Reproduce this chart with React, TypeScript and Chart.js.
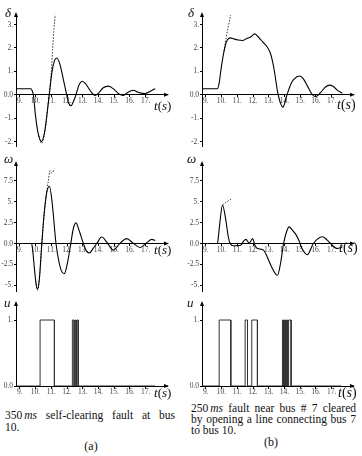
import React, { useEffect, useRef } from 'react';
import { Chart, registerables } from 'chart.js';
Chart.register(...registerables);

// ---------- axis ticks ----------
const xTicks = [9, 10, 11, 12, 13, 14, 15, 16, 17];
const xTickLabels = ['9.', '10.', '11.', '12.', '13.', '14.', '15.', '16.', '17.'];
const deltaTicks = [-2, -1, 0, 1, 2, 3];
const deltaTickLabels = ['-2.', '-1.', '0.0', '1.', '2.', '3.'];
const omegaTicks = [-5, -2.5, 0, 2.5, 5, 7.5];
const omegaTickLabels = ['-5.', '-2.5', '0.0', '2.5', '5.', '7.5'];
const uTicks = [0, 1];
const uTickLabels = ['0.0', '1.'];

// ---------- (a) delta ----------
const deltaA_t = [8.76, 9.72, 9.78, 9.86, 10.0, 10.15, 10.38, 10.6, 10.75, 10.87, 11.05, 11.2, 11.35, 11.55, 11.8, 11.98, 12.1, 12.26, 12.4, 12.57, 12.75, 12.97, 13.2, 13.5, 13.78, 14.0, 14.3, 14.63, 15.0, 15.3, 15.58, 15.85, 16.2, 16.55, 16.95, 17.3, 17.6];
const deltaA = [0.26, 0.26, 0.18, 0.0, -0.9, -1.6, -2.0, -1.5, -0.7, 0.0, 1.0, 1.45, 1.57, 1.3, 0.55, 0.0, -0.35, -0.47, -0.3, 0.0, 0.4, 0.58, 0.45, 0.15, -0.03, 0.07, 0.3, 0.37, 0.22, 0.03, -0.03, 0.1, 0.19, 0.1, 0.05, 0.15, 0.26];
const deltaAd_t = [10.2, 10.38, 10.6, 10.75, 10.87, 11.0, 11.08, 11.17, 11.25];
const deltaAd = [-1.75, -2.08, -1.55, -0.72, 0.0, 0.95, 1.9, 2.8, 3.42];

// ---------- (b) delta ----------
const deltaB_t = [8.76, 9.74, 9.85, 9.95, 10.05, 10.16, 10.28, 10.38, 10.55, 10.8, 11.05, 11.33, 11.6, 11.85, 12.11, 12.3, 12.49, 12.7, 12.87, 13.13, 13.34, 13.55, 13.76, 13.9, 14.14, 14.4, 14.6, 14.98, 15.2, 15.45, 15.77, 15.98, 16.3, 16.6, 16.87, 17.1, 17.35, 17.67];
const deltaB = [0.26, 0.26, 0.5, 1.0, 1.45, 1.86, 2.2, 2.35, 2.43, 2.38, 2.34, 2.32, 2.4, 2.47, 2.6, 2.5, 2.35, 2.2, 2.07, 1.72, 1.08, 0.17, -0.39, -0.53, -0.04, 0.45, 0.67, 0.8, 0.68, 0.38, 0.0, -0.08, 0.1, 0.33, 0.41, 0.35, 0.2, 0.06];
const deltaBd_t = [10.16, 10.3, 10.44, 10.58];
const deltaBd = [1.86, 2.45, 2.95, 3.4];

// ---------- (a) omega ----------
const omegaA_t = [8.76, 9.75, 9.82, 9.92, 10.02, 10.12, 10.24, 10.4, 10.55, 10.7, 10.88, 11.05, 11.3, 11.5, 11.65, 11.83, 12.02, 12.24, 12.4, 12.57, 12.78, 13.04, 13.22, 13.42, 13.65, 13.89, 14.2, 14.55, 14.94, 15.35, 15.79, 16.2, 16.64, 17.0, 17.38, 17.6];
const omegaA = [0, 0, -0.8, -2.8, -4.6, -5.45, -4.3, 0, 3.6, 6.0, 6.86, 5.0, 0, -2.3, -3.3, -3.6, -2.4, 0, 1.8, 2.47, 1.5, 0, -0.85, -1.14, -0.6, 0, 0.78, 0.1, -0.79, 0, 0.59, 0.05, -0.47, 0, 0.5, 0.35];
const omegaAd_t = [10.0, 10.12, 10.24, 10.4, 10.55, 10.7, 10.82, 10.92, 11.03, 11.2];
const omegaAd = [-4.5, -5.6, -4.4, 0, 3.6, 6.0, 7.6, 8.74, 8.43, 8.94];

// ---------- (b) omega ----------
const omegaB_t = [8.76, 9.74, 9.8, 9.9, 10.06, 10.27, 10.42, 10.55, 10.76, 11.0, 11.22, 11.4, 11.55, 11.76, 11.97, 12.12, 12.28, 12.49, 12.7, 12.96, 13.23, 13.55, 13.76, 13.93, 14.14, 14.29, 14.5, 14.72, 14.93, 15.08, 15.45, 15.83, 16.4, 16.93, 17.35, 17.67];
const omegaB = [0, 0, 0.8, 2.6, 4.62, 2.86, 0.9, 0, -0.27, -0.25, -0.2, 0.3, 0.5, 0.05, 0.59, -0.2, -0.6, -0.67, -0.86, -1.84, -3.0, -3.8, -2.24, -0.1, 1.47, 2.0, 1.6, 1.1, 0.3, -0.47, -1.34, 0, 0.82, 0, -0.6, -0.4];
const omegaBd_t = [10.06, 10.3, 10.59];
const omegaBd = [4.62, 4.95, 5.3];

// ---------- control u (switch on / off times) ----------
const uA_on = [10.29, 12.34, 12.53, 12.64];
const uA_off = [11.2, 12.45, 12.59, 12.72];
const uB_on = [9.85, 11.5, 11.92, 13.87, 14.0, 14.13, 14.26];
const uB_off = [10.59, 11.65, 12.28, 13.94, 14.07, 14.2, 14.42];
const uStart = 8.76;
const uEnd = 17.6;

const T_MIN = 8.76;
const T_MAX = 18.35;
const FONT = "'Liberation Serif', 'DejaVu Serif', serif";

const zip = (t: number[], v: number[]) => t.map((x, i) => ({ x, y: v[i] }));
const pulses = (on: number[], off: number[]) => {
  const pts: { x: number; y: number }[] = [{ x: uStart, y: 0 }];
  on.forEach((a, i) => {
    pts.push({ x: a, y: 0 }, { x: a, y: 1 }, { x: off[i], y: 1 }, { x: off[i], y: 0 });
  });
  pts.push({ x: uEnd, y: 0 });
  return pts;
};

const solid = (data: any[]) => ({
  data, borderColor: '#000', borderWidth: 1.1, pointRadius: 0, fill: false,
  cubicInterpolationMode: 'monotone' as const,
});
const dotted = (data: any[]) => ({
  data, borderColor: '#333', borderWidth: 1, pointRadius: 0, fill: false,
  borderDash: [1.5, 1.5], cubicInterpolationMode: 'monotone' as const,
});
const steps = (data: any[]) => ({
  data, borderColor: '#333', borderWidth: 1, pointRadius: 0, fill: false, tension: 0,
});

const arrowPlugin = {
  id: 'axisArrows',
  afterDraw(chart: any) {
    const { ctx, chartArea: a, scales } = chart;
    const y0 = scales.y.getPixelForValue(0);
    ctx.save();
    ctx.fillStyle = '#000';
    ctx.beginPath();
    ctx.moveTo(a.left, a.top - 2);
    ctx.lineTo(a.left - 2, a.top + 3);
    ctx.lineTo(a.left + 2, a.top + 3);
    ctx.closePath();
    ctx.fill();
    ctx.beginPath();
    ctx.moveTo(a.right + 2, y0);
    ctx.lineTo(a.right - 3, y0 - 2);
    ctx.lineTo(a.right - 3, y0 + 2);
    ctx.closePath();
    ctx.fill();
    ctx.restore();
  },
};

type PanelProps = {
  left: number; top: number; width: number; height: number;
  pad: { top: number; right: number; bottom: number; left: number };
  yMin: number; yMax: number; yTicks: number[]; yLabels: string[];
  datasets: any[];
};

function Panel(p: PanelProps) {
  const ref = useRef<HTMLCanvasElement>(null);
  useEffect(() => {
    const tickFont = { family: FONT, size: 7.5 };
    const chart = new Chart(ref.current as HTMLCanvasElement, {
      type: 'line',
      data: { datasets: p.datasets },
      options: {
        animation: false,
        responsive: false,
        layout: { padding: p.pad },
        plugins: { legend: { display: false }, tooltip: { enabled: false } },
        scales: {
          x: {
            type: 'linear', min: T_MIN, max: T_MAX,
            position: { y: 0 } as any,
            afterBuildTicks: (s: any) => { s.ticks = xTicks.map((v) => ({ value: v })); },
            ticks: {
              autoSkip: false, maxRotation: 0, padding: 0, color: '#444', font: tickFont,
              callback: (_v: any, i: number) => xTickLabels[i],
            },
            grid: { display: true, drawOnChartArea: false, drawTicks: true, tickLength: 2, color: '#000' },
            border: { display: true, color: '#000', width: 1 },
          },
          y: {
            type: 'linear', min: p.yMin, max: p.yMax, position: 'left',
            afterFit: (s: any) => { s.width = 16; },
            afterBuildTicks: (s: any) => { s.ticks = p.yTicks.map((v) => ({ value: v })); },
            ticks: {
              autoSkip: false, padding: 1, color: '#444', font: tickFont,
              callback: (_v: any, i: number) => p.yLabels[i],
            },
            grid: { display: true, drawOnChartArea: false, drawTicks: true, tickLength: 2, color: '#000' },
            border: { display: true, color: '#000', width: 1 },
          },
        },
      },
      plugins: [arrowPlugin],
    });
    return () => chart.destroy();
  }, []);
  return (
    <canvas
      ref={ref}
      width={p.width}
      height={p.height}
      style={{ position: 'absolute', left: p.left, top: p.top, width: p.width, height: p.height }}
    />
  );
}

function Txt({ left, top, size, children, italic = true }: any) {
  return (
    <span style={{
      position: 'absolute', left, top, fontFamily: FONT, fontSize: size, lineHeight: 1,
      fontStyle: italic ? 'italic' : 'normal', whiteSpace: 'nowrap', color: '#111',
    }}>{children}</span>
  );
}

function TS({ left, top, size }: any) {
  return (
    <Txt left={left} top={top} size={size} italic={false}>
      <i>t</i>(<i>s</i>)
    </Txt>
  );
}

export default function App() {
  const L = { left: 0, width: 181, right: 14 };
  const R = { left: 186, width: 176, right: 9 };
  const rows = [
    { top: 0, height: 152, pt: 14, pb: 4 },
    { top: 152, height: 145, pt: 11, pb: 4 },
    { top: 297, height: 100, pt: 6, pb: 11 },
  ];
  const mk = (c: any, r: any, yMin: number, yMax: number, yTicks: number[], yLabels: string[], datasets: any[]) => (
    <Panel
      left={c.left} top={r.top} width={c.width} height={r.height}
      pad={{ top: r.pt, right: c.right, bottom: r.pb, left: 0 }}
      yMin={yMin} yMax={yMax} yTicks={yTicks} yLabels={yLabels} datasets={datasets}
    />
  );
  const justify: React.CSSProperties = { textAlign: 'justify', textAlignLast: 'justify', whiteSpace: 'nowrap', height: 11.2 };
  const capFont: React.CSSProperties = { fontFamily: FONT, fontSize: 11.5, color: '#111', position: 'absolute' };
  return (
    <div style={{ position: 'absolute', left: 0, top: 0, width: 362, height: 456, background: '#fff', overflow: 'hidden' }}>
      {mk(L, rows[0], -2.21, 3.45, deltaTicks, deltaTickLabels, [solid(zip(deltaA_t, deltaA)), dotted(zip(deltaAd_t, deltaAd))])}
      {mk(R, rows[0], -2.21, 3.45, deltaTicks, deltaTickLabels, [solid(zip(deltaB_t, deltaB)), dotted(zip(deltaBd_t, deltaBd))])}
      {mk(L, rows[1], -5.74, 9.64, omegaTicks, omegaTickLabels, [solid(zip(omegaA_t, omegaA)), dotted(zip(omegaAd_t, omegaAd))])}
      {mk(R, rows[1], -5.74, 9.64, omegaTicks, omegaTickLabels, [solid(zip(omegaB_t, omegaB)), dotted(zip(omegaBd_t, omegaBd))])}
      {mk(L, rows[2], 0, 1.258, uTicks, uTickLabels, [steps(pulses(uA_on, uA_off))])}
      {mk(R, rows[2], 0, 1.258, uTicks, uTickLabels, [steps(pulses(uB_on, uB_off))])}

      <Txt left={5} top={6} size={13}>δ</Txt>
      <Txt left={188} top={6} size={13}>δ</Txt>
      <Txt left={4} top={152} size={13}>ω</Txt>
      <Txt left={187} top={152} size={13}>ω</Txt>
      <Txt left={4} top={296} size={13}>u</Txt>
      <Txt left={187} top={296} size={13}>u</Txt>

      <TS left={154} top={99} size={13} />
      <TS left={337} top={98} size={14} />
      <TS left={154} top={243} size={13} />
      <TS left={339} top={241} size={14} />
      <TS left={154} top={386} size={13} />
      <TS left={338} top={386} size={14} />

      <div style={{ ...capFont, left: 5, top: 410, width: 170, lineHeight: '11.7px' }}>
        <div style={{ ...justify, height: 11.7 }}>
          <span style={{ display: 'inline-block' }}>350<i style={{ marginLeft: 2 }}>ms</i></span> self-clearing fault at bus
        </div>
        <div>10.</div>
      </div>
      <div style={{ ...capFont, left: 71, top: 440, width: 40, fontSize: 12, lineHeight: '12px', textAlign: 'center' }}>(a)</div>

      <div style={{ ...capFont, left: 191, top: 403, width: 165, lineHeight: '11.2px' }}>
        <div style={justify}>
          <span style={{ display: 'inline-block' }}>250<i style={{ marginLeft: 2 }}>ms</i></span> fault near bus # 7 cleared
        </div>
        <div style={justify}>by opening a line connecting bus 7</div>
        <div>to bus 10.</div>
      </div>
      <div style={{ ...capFont, left: 251, top: 436, width: 40, fontSize: 12, lineHeight: '12px', textAlign: 'center' }}>(b)</div>
    </div>
  );
}
